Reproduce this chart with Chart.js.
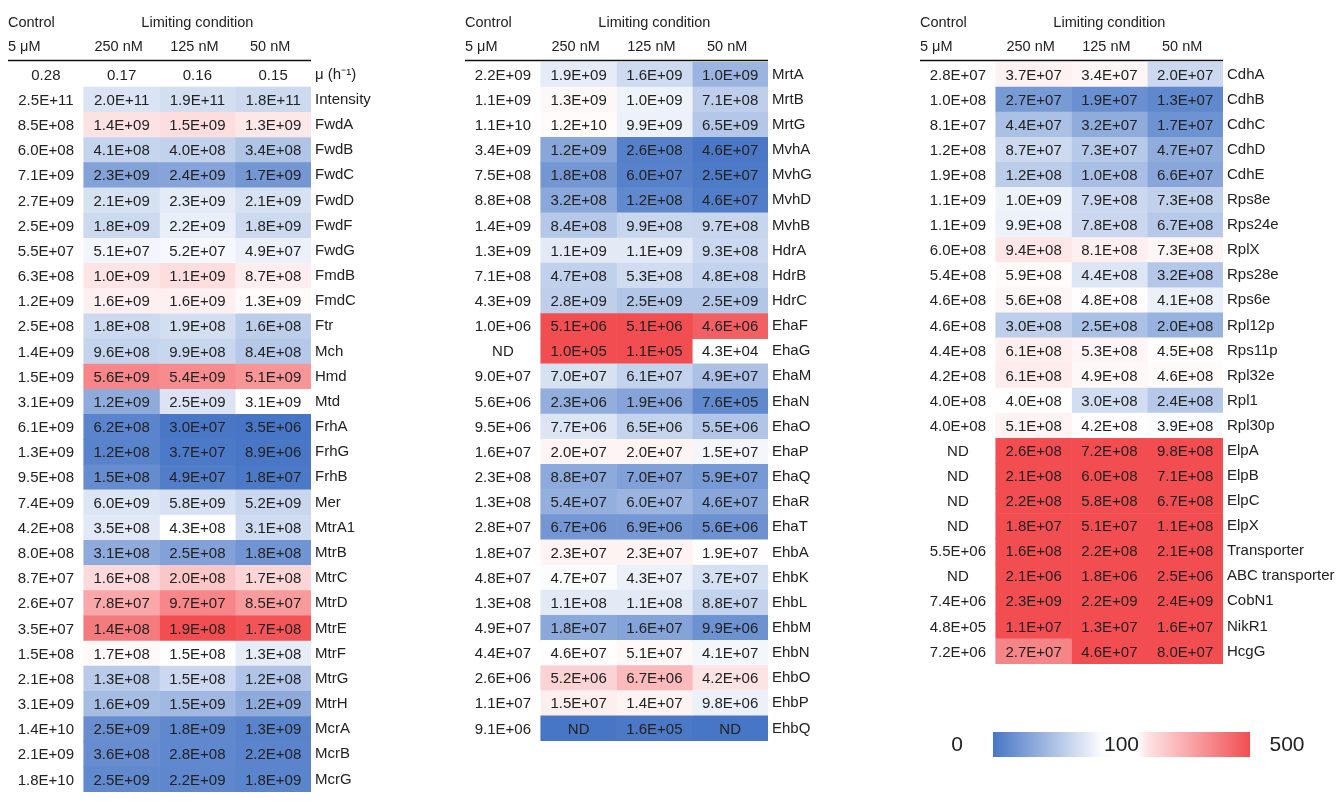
<!DOCTYPE html>
<html>
<head>
<meta charset="utf-8">
<script src="https://cdn.jsdelivr.net/npm/chart.js@4.4.1/dist/chart.umd.min.js"></script>
<style>
  html, body { margin: 0; padding: 0; background: #fff; overflow: hidden; width: 1337px; height: 801px; }
  canvas { position: absolute; }
</style>
</head>
<body>
<canvas id="panel1"></canvas>
<canvas id="panel2"></canvas>
<canvas id="panel3"></canvas>
<canvas id="scaleBar"></canvas>
<script>
// ---- Protein abundance (label-free intensity); null = not detected (ND) ----
const conditionGroups = ['Control', 'Limiting condition'];
const concentrations = ['5 μM', '250 nM', '125 nM', '50 nM'];
const growthRate = [0.28, 0.17, 0.16, 0.15];   // μ (h⁻¹)

const proteins1 = ['Intensity','FwdA','FwdB','FwdC','FwdD','FwdF','FwdG','FmdB','FmdC','Ftr','Mch','Hmd','Mtd',
  'FrhA','FrhG','FrhB','Mer','MtrA1','MtrB','MtrC','MtrD','MtrE','MtrF','MtrG','MtrH','McrA','McrB','McrG'];
const control1 = [2.5e11,8.5e8,6.0e8,7.1e9,2.7e9,2.5e9,5.5e7,6.3e8,1.2e9,2.5e8,1.4e9,1.5e9,3.1e9,
  6.1e9,1.3e9,9.5e8,7.4e9,4.2e8,8.0e8,8.7e7,2.6e7,3.5e7,1.5e8,2.1e8,3.1e9,1.4e10,2.1e9,1.8e10];
const nM250_1 = [2.0e11,1.4e9,4.1e8,2.3e9,2.1e9,1.8e9,5.1e7,1.0e9,1.6e9,1.8e8,9.6e8,5.6e9,1.2e9,
  6.2e8,1.2e8,1.5e8,6.0e9,3.5e8,3.1e8,1.6e8,7.8e7,1.4e8,1.7e8,1.3e8,1.6e9,2.5e9,3.6e8,2.5e9];
const nM125_1 = [1.9e11,1.5e9,4.0e8,2.4e9,2.3e9,2.2e9,5.2e7,1.1e9,1.6e9,1.9e8,9.9e8,5.4e9,2.5e9,
  3.0e7,3.7e7,4.9e7,5.8e9,4.3e8,2.5e8,2.0e8,9.7e7,1.9e8,1.5e8,1.5e8,1.5e9,1.8e9,2.8e8,2.2e9];
const nM50_1 = [1.8e11,1.3e9,3.4e8,1.7e9,2.1e9,1.8e9,4.9e7,8.7e8,1.3e9,1.6e8,8.4e8,5.1e9,3.1e9,
  3.5e6,8.9e6,1.8e7,5.2e9,3.1e8,1.8e8,1.7e8,8.5e7,1.7e8,1.3e8,1.2e8,1.2e9,1.3e9,2.2e8,1.8e9];

const proteins2 = ['MrtA','MrtB','MrtG','MvhA','MvhG','MvhD','MvhB','HdrA','HdrB','HdrC','EhaF','EhaG','EhaM',
  'EhaN','EhaO','EhaP','EhaQ','EhaR','EhaT','EhbA','EhbK','EhbL','EhbM','EhbN','EhbO','EhbP','EhbQ'];
const control2 = [2.2e9,1.1e9,1.1e10,3.4e9,7.5e8,8.8e8,1.4e9,1.3e9,7.1e8,4.3e9,1.0e6,null,9.0e7,
  5.6e6,9.5e6,1.6e7,2.3e8,1.3e8,2.8e7,1.8e7,4.8e7,1.3e8,4.9e7,4.4e7,2.6e6,1.1e7,9.1e6];
const nM250_2 = [1.9e9,1.3e9,1.2e10,1.2e9,1.8e8,3.2e8,8.4e8,1.1e9,4.7e8,2.8e9,5.1e6,1.0e5,7.0e7,
  2.3e6,7.7e6,2.0e7,8.8e7,5.4e7,6.7e6,2.3e7,4.7e7,1.1e8,1.8e7,4.6e7,5.2e6,1.5e7,null];
const nM125_2 = [1.6e9,1.0e9,9.9e9,2.6e8,6.0e7,1.2e8,9.9e8,1.1e9,5.3e8,2.5e9,5.1e6,1.1e5,6.1e7,
  1.9e6,6.5e6,2.0e7,7.0e7,6.0e7,6.9e6,2.3e7,4.3e7,1.1e8,1.6e7,5.1e7,6.7e6,1.4e7,1.6e5];
const nM50_2 = [1.0e9,7.1e8,6.5e9,4.6e7,2.5e7,4.6e7,9.7e8,9.3e8,4.8e8,2.5e9,4.6e6,4.3e4,4.9e7,
  7.6e5,5.5e6,1.5e7,5.9e7,4.6e7,5.6e6,1.9e7,3.7e7,8.8e7,9.9e6,4.1e7,4.2e6,9.8e6,null];

const proteins3 = ['CdhA','CdhB','CdhC','CdhD','CdhE','Rps8e','Rps24e','RplX','Rps28e','Rps6e','Rpl12p','Rps11p',
  'Rpl32e','Rpl1','Rpl30p','ElpA','ElpB','ElpC','ElpX','Transporter','ABC transporter','CobN1','NikR1','HcgG'];
const control3 = [2.8e7,1.0e8,8.1e7,1.2e8,1.9e8,1.1e9,1.1e9,6.0e8,5.4e8,4.6e8,4.6e8,4.4e8,
  4.2e8,4.0e8,4.0e8,null,null,null,null,5.5e6,null,7.4e6,4.8e5,7.2e6];
const nM250_3 = [3.7e7,2.7e7,4.4e7,8.7e7,1.2e8,1.0e9,9.9e8,9.4e8,5.9e8,5.6e8,3.0e8,6.1e8,
  6.1e8,4.0e8,5.1e8,2.6e8,2.1e8,2.2e8,1.8e7,1.6e8,2.1e6,2.3e9,1.1e7,2.7e7];
const nM125_3 = [3.4e7,1.9e7,3.2e7,7.3e7,1.0e8,7.9e8,7.8e8,8.1e8,4.4e8,4.8e8,2.5e8,5.3e8,
  4.9e8,3.0e8,4.2e8,7.2e8,6.0e8,5.8e8,5.1e7,2.2e8,1.8e6,2.2e9,1.3e7,4.6e7];
const nM50_3 = [2.0e7,1.3e7,1.7e7,4.7e7,6.6e7,7.3e8,6.7e8,7.3e8,3.2e8,4.1e8,2.0e8,4.5e8,
  4.6e8,2.4e8,3.9e8,9.8e8,7.1e8,6.7e8,1.1e8,2.1e8,2.5e6,2.4e9,1.6e7,8.0e7];

// cells reported but left unshaded (below quantification)
const unshadedCells = [['EhaG', 3]];

// colour key: percent of control
const keyStops = [0, 100, 500];

// ---- drawing ----
Chart.defaults.font.family = '"Liberation Sans", Arial, Helvetica, sans-serif';
Chart.defaults.color = '#222';

const BLUE = [72, 118, 198], RED = [242, 78, 82], WHITE = [255, 255, 255];
const ROW_H = 25.6, TOP = 62;

function mix(a, b, t) {
  return 'rgb(' + a.map((x, i) => Math.round(x + (b[i] - x) * t)).join(',') + ')';
}
function shade(ctrl, v) {
  if (v === null) return mix(WHITE, BLUE, 1);
  if (ctrl === null) return mix(WHITE, RED, 1);
  const pct = v / ctrl * 100;
  if (pct <= keyStops[1]) return mix(WHITE, BLUE, 1 - pct / keyStops[1]);
  return mix(WHITE, RED, Math.min(1, (pct - keyStops[1]) / (keyStops[2] - keyStops[1])));
}
function sci(v) {
  if (v === null) return 'ND';
  const [m, e] = v.toExponential(1).split('e');
  const n = parseInt(e, 10);
  return m + 'E' + (n < 0 ? '-' : '+') + String(Math.abs(n)).padStart(2, '0');
}

const cellText = {
  id: 'cellText',
  afterDatasetsDraw(chart) {
    const { ctx, chartArea: a, scales: { x } } = chart;
    ctx.save();
    ctx.fillStyle = '#222';
    ctx.textBaseline = 'middle';
    ctx.textAlign = 'center';
    ctx.font = '15px "Liberation Sans", Arial, sans-serif';
    chart.data.datasets.forEach((ds, di) => {
      chart.getDatasetMeta(di).data.forEach((bar, ri) => {
        ctx.fillText(ds.texts[ri], (bar.x + bar.base) / 2, bar.y + 1);
      });
    });
    // column headers and rule
    ctx.font = '14.5px "Liberation Sans", Arial, sans-serif';
    ctx.textAlign = 'left';
    ctx.fillText(conditionGroups[0], a.left, 23);
    ctx.fillText(concentrations[0], a.left, 47);
    ctx.textAlign = 'center';
    ctx.fillText(conditionGroups[1], x.getPixelForValue(2.5), 23);
    for (let c = 1; c < 4; c++) ctx.fillText(concentrations[c], x.getPixelForValue(c + 0.5) - 3, 47);
    ctx.strokeStyle = '#111';
    ctx.lineWidth = 1.6;
    ctx.beginPath();
    ctx.moveTo(a.left, a.top - 1.5);
    ctx.lineTo(a.right, a.top - 1.5);
    ctx.stroke();
    ctx.restore();
  }
};

function buildPanel(id, left, names, cols, opts = {}) {
  const canvas = document.getElementById(id);
  const n = names.length;
  canvas.width = 303 + 125;
  canvas.height = Math.ceil(TOP + n * ROW_H);
  canvas.style.left = left + 'px';
  canvas.style.top = '0px';
  const ctrl = cols[0];
  const plain = opts.plainRows || [];
  const datasets = cols.map((col, ci) => ({
    data: names.map(() => [ci, ci + 1]),
    texts: col.map((v, ri) => plain.includes(ri) ? v.toFixed(2) : sci(v)),
    backgroundColor: col.map((v, ri) => {
      if (ci === 0 || plain.includes(ri)) return 'rgba(0,0,0,0)';
      if (unshadedCells.some(([p, c]) => p === names[ri] && c === ci)) return 'rgba(0,0,0,0)';
      return shade(ctrl[ri], v);
    }),
    borderWidth: 0,
    grouped: false,
    barPercentage: 1,
    categoryPercentage: 1
  }));
  return new Chart(canvas, {
    type: 'bar',
    data: { labels: names, datasets },
    options: {
      indexAxis: 'y',
      responsive: false,
      animation: false,
      events: [],
      layout: { padding: { top: TOP, left: 0, right: 0, bottom: 0 } },
      plugins: { legend: { display: false }, tooltip: { enabled: false } },
      scales: {
        x: { type: 'linear', min: 0, max: 4, display: false },
        y: {
          type: 'category',
          position: 'right',
          grid: { display: false, drawTicks: false },
          border: { display: false },
          ticks: { autoSkip: false, padding: 4, color: '#222', font: { size: 15 } },
          afterFit(scale) { scale.width = 125; }
        }
      }
    },
    plugins: [cellText]
  });
}

const p1Names = ['μ (h⁻¹)', ...proteins1];
const p1Cols = [
  [growthRate[0], ...control1], [growthRate[1], ...nM250_1],
  [growthRate[2], ...nM125_1], [growthRate[3], ...nM50_1]
];
buildPanel('panel1', 8, p1Names, p1Cols, { plainRows: [0] });
buildPanel('panel2', 465, proteins2, [control2, nM250_2, nM125_2, nM50_2]);
buildPanel('panel3', 920, proteins3, [control3, nM250_3, nM125_3, nM50_3]);

// ---- colour key ----
(function () {
  const canvas = document.getElementById('scaleBar');
  canvas.width = 400; canvas.height = 60;
  canvas.style.left = '940px'; canvas.style.top = '714px';
  const grad = (ctx) => {
    const a = ctx.chart.chartArea;
    if (!a) return 'rgba(0,0,0,0)';
    const g = ctx.chart.ctx.createLinearGradient(a.left, 0, a.right, 0);
    g.addColorStop(0, mix(WHITE, BLUE, 1));
    g.addColorStop(0.42, mix(WHITE, BLUE, 0.03));
    g.addColorStop(0.5, 'rgb(255,255,255)');
    g.addColorStop(0.56, 'rgb(255,255,255)');
    g.addColorStop(0.6, mix(WHITE, RED, 0.15));
    g.addColorStop(1, mix(WHITE, RED, 1));
    return g;
  };
  const keyLabels = {
    id: 'keyLabels',
    afterDatasetsDraw(chart) {
      const { ctx, chartArea: a, scales: { x } } = chart;
      const yMid = (a.top + a.bottom) / 2 + 1;
      ctx.save();
      ctx.font = '21px "Liberation Sans", Arial, sans-serif';
      ctx.fillStyle = '#222';
      ctx.textBaseline = 'middle';
      ctx.textAlign = 'center';
      ctx.fillText(String(keyStops[0]), x.getPixelForValue(0) - 36, yMid);
      ctx.fillText(String(keyStops[1]), x.getPixelForValue(1), yMid);
      ctx.fillText(String(keyStops[2]), x.getPixelForValue(2) + 37, yMid);
      ctx.restore();
    }
  };
  new Chart(canvas, {
    type: 'bar',
    data: {
      labels: [''],
      datasets: [
        { data: [[0, 1]], backgroundColor: grad, borderWidth: 0, grouped: false, barPercentage: 1, categoryPercentage: 1 },
        { data: [[1, 2]], backgroundColor: grad, borderWidth: 0, grouped: false, barPercentage: 1, categoryPercentage: 1 }
      ]
    },
    options: {
      indexAxis: 'y',
      responsive: false,
      animation: false,
      events: [],
      layout: { padding: { left: 53, right: 90, top: 18, bottom: 17 } },
      plugins: { legend: { display: false }, tooltip: { enabled: false } },
      scales: {
        x: { type: 'linear', min: 0, max: 2, display: false },
        y: { display: false }
      }
    },
    plugins: [keyLabels]
  });
})();
</script>
</body>
</html>
